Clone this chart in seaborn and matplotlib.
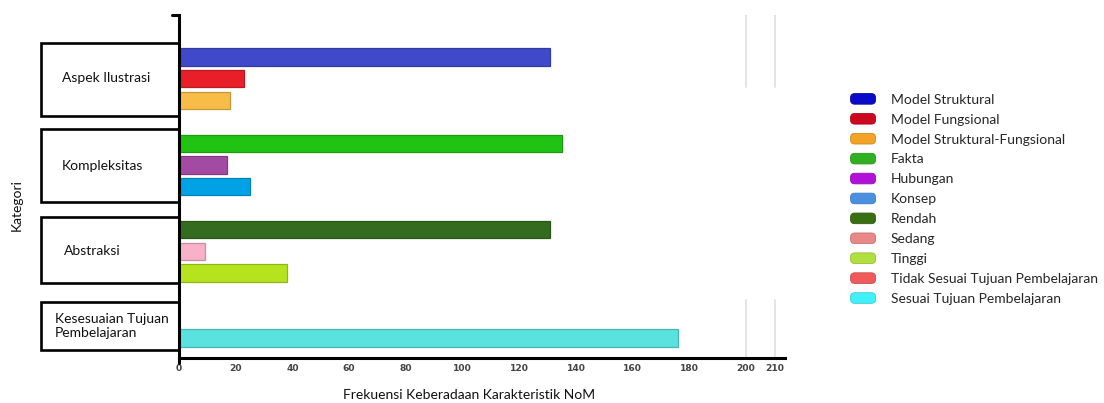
import pandas as pd
import matplotlib.pyplot as plt
import matplotlib.colors as mcolors
from matplotlib.patches import Rectangle, Patch, FancyBboxPatch
from matplotlib.legend_handler import HandlerPatch
from matplotlib.lines import Line2D
import seaborn as sns

# Settings
sns.set_theme(style="white")
plt.rcParams['font.family'] = ['Lato', 'DejaVu Sans']

# Data
categories = ["Aspek Ilustrasi", "Kompleksitas", "Abstraksi", "Kesesuaian Tujuan\nPembelajaran"]
group_items = [
    ["Model Struktural", "Model Fungsional", "Model Struktural-Fungsional"],
    ["Fakta", "Hubungan", "Konsep"],
    ["Rendah", "Sedang", "Tinggi"],
    ["Tidak Sesuai Tujuan Pembelajaran", "Sesuai Tujuan Pembelajaran"],
]
group_values = [
    [131, 23, 18],
    [135, 17, 25],
    [131, 9, 38],
    [0, 176],
]
bar_colors = ["#4049c9", "#e81f28", "#f8bd48",
              "#1fc413", "#a34aa3", "#00a2e6",
              "#336b1f", "#f9b0c9", "#b5e41e",
              "#f05a5a", "#5ae2df"]
legend_colors = ["#0a0ac8", "#cc0a1e", "#f2a226",
                 "#30b020", "#b010d8", "#4a90e0",
                 "#3a6e12", "#e88888", "#b0e040",
                 "#f05a5a", "#40f2f8"]
x_ticks = [0, 20, 40, 60, 80, 100, 120, 140, 160, 180, 200, 210]
x_label = "Frekuensi Keberadaan Karakteristik NoM"
y_label = "Kategori"

W, H = 1104, 403
TXT = 10


def fx(px):
    return px / W


def fy(py):
    return 1 - py / H


class RoundHandler(HandlerPatch):
    """Legend swatch with rounded corners"""
    def create_artists(self, legend, orig_handle, xdescent, ydescent,
                       width, height, fontsize, trans):
        p = FancyBboxPatch((-xdescent + 1.5, -ydescent + 1.5), width - 3, height - 3,
                           boxstyle="round,pad=1.5,rounding_size=3",
                           facecolor=orig_handle.get_facecolor(),
                           edgecolor=orig_handle.get_edgecolor(), lw=0.6)
        p.set_transform(trans)
        return [p]


# Build table, with empty spacer slots between groups
rows = []
order = []
for g, (items, vals) in enumerate(zip(group_items, group_values)):
    for item, val in zip(items, vals):
        rows.append({"item": item, "value": val})
        order.append(item)
    if g < len(group_items) - 1:
        order.append(" " * (g + 1))
df = pd.DataFrame(rows)
all_items = [i for items in group_items for i in items]
palette = dict(zip(all_items, bar_colors))

fig = plt.figure(figsize=(W / 100, H / 100), dpi=100)
ax = fig.add_axes([fx(179), fy(358), fx(785) - fx(179), fy(15) - fy(358)])

sns.barplot(data=df, x="value", y="item", hue="item", order=order,
            palette=palette, orient="h", width=0.8, saturation=1,
            legend=False, ax=ax)

for p in ax.patches:
    fc = mcolors.to_rgb(p.get_facecolor())
    p.set_edgecolor(tuple(c * 0.8 for c in fc))
    p.set_linewidth(0.9)

ax.set_xlim(0, 213.7)
ax.set_ylim(13.93, -1.94)
ax.set_xticks(x_ticks)
ax.set_xticklabels([str(t) for t in x_ticks], fontsize=6.6, fontweight="bold",
                   color="#444444", family="DejaVu Sans")
ax.tick_params(axis="x", direction="in", length=7, width=1.3, color="#e2e2e2", pad=4)
ax.set_yticks([])
ax.set_xlabel("")
ax.set_ylabel("")
for s in ["top", "right"]:
    ax.spines[s].set_visible(False)
ax.spines["left"].set_linewidth(2.2)
ax.spines["bottom"].set_linewidth(2.2)
ax.spines["left"].set_color("black")
ax.spines["bottom"].set_color("black")

# partial grid lines on the right
for xv in [200, 210]:
    ax.axvline(xv, ymin=0.79, ymax=1.0, color="#e4e4e4", lw=1.4, zorder=0)
    ax.axvline(xv, ymin=0.0, ymax=0.17, color="#e4e4e4", lw=1.4, zorder=0)

# top bracket and small overhang at the bottom
fig.add_artist(Line2D([fx(172), fx(179)], [fy(15), fy(15)], color="black", lw=2.2))
fig.add_artist(Line2D([fx(179), fx(179)], [fy(357), fy(363)], color="black", lw=2.2))

# category boxes
boxes = [(41, 43, 179, 116), (41, 129, 179, 202), (41, 217, 179, 283), (41, 302, 179, 350)]
label_pos = [(62, 78), (62, 166), (64, 251), (55, 326)]
for (x0, y0, x1, y1), (tx, ty), cat in zip(boxes, label_pos, categories):
    fig.add_artist(Rectangle((fx(x0), fy(y1)), fx(x1) - fx(x0), fy(y0) - fy(y1),
                             fill=False, edgecolor="black", lw=1.9))
    fig.text(fx(tx), fy(ty), cat, ha="left", va="center", fontsize=TXT,
             color="#111111", linespacing=1.15)

fig.text(fx(469), fy(395), x_label, ha="center", va="center", fontsize=TXT, color="#111111")
fig.text(fx(17), fy(205), y_label, ha="center", va="center", rotation=90,
         fontsize=TXT, color="#111111")

# legend
handles = [Patch(facecolor=c, edgecolor=tuple(v * 0.85 for v in mcolors.to_rgb(c)))
           for c in legend_colors]
fig.legend(handles, all_items, loc="upper left", bbox_to_anchor=(fx(845), fy(88)),
           frameon=False, fontsize=TXT, handlelength=1.8, handleheight=0.8,
           handletextpad=1.1, labelspacing=0.56, borderaxespad=0,
           handler_map={Patch: RoundHandler()})

plt.savefig("out.png", dpi=100)
plt.close()
